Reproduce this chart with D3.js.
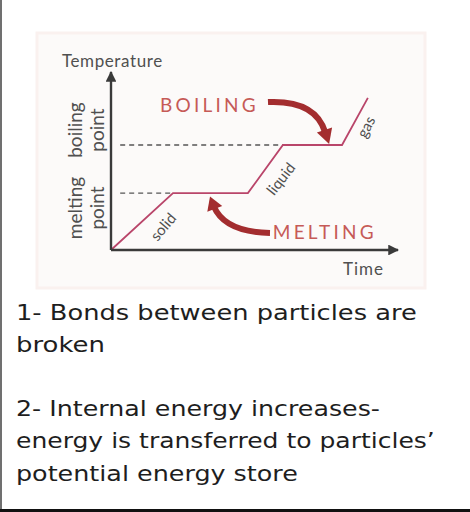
<!DOCTYPE html>
<html><head><meta charset="utf-8">
<script src="https://cdn.jsdelivr.net/npm/d3@7"></script>
<style>html,body{margin:0;padding:0;background:#fff;} svg{display:block}</style>
</head><body><svg id="c" width="470" height="512"></svg>
<script>
// ---- data ----
const curveTime = [0, 2.16, 4.77, 5.99, 8.05, 8.95];
const curveTemp = [0, 3.2, 3.2, 5.9, 5.9, 8.55];
const pointTemps = [3.2, 5.9];
const pointDashEnd = [2.16, 5.99];
const pointLabels = [["melting", "point"], ["boiling", "point"]];
const phaseLabels = ["solid", "liquid", "gas"];
const phaseTime = [1.82, 5.92, 8.89];
const phaseTemp = [1.30, 4.00, 6.91];
const phaseAngle = [-50, -52, -62];
const processLabels = ["BOILING", "MELTING"];
const processTime = [1.71, 5.64];
const processTemp = [8.15, 1.01];
// arrows: start, control, end, tip (time, temp)
const arrowBoiling = [[5.47, 8.31], [7.11, 8.43], [7.46, 6.63], [7.60, 5.95]];
const arrowMelting = [[5.54, 0.955], [3.97, 1.01], [3.59, 2.42], [3.45, 3.0]];
const axisTitles = ["Temperature", "Time"];
const noteLines = [
  "1- Bonds between particles are",
  "broken",
  "",
  "2- Internal energy increases-",
  "energy is transferred to particles\u2019",
  "potential energy store"
];
const noteWidths = [401, 89, 0, 364, 419, 282];

// ---- drawing ----
const svg = d3.select("#c");
svg.append("rect").attr("width", 470).attr("height", 512).attr("fill", "#fff");

// picture panel
svg.append("rect").attr("x", 37).attr("y", 33).attr("width", 388).attr("height", 255)
  .attr("fill", "#fcfaf9").attr("stroke", "#faf1ef").attr("stroke-width", 3);

const x = d3.scaleLinear().domain([0, 10]).range([111, 398]);
const y = d3.scaleLinear().domain([0, 10]).range([250, 72]);
const g = svg.append("g");

const defs = svg.append("defs");
defs.append("marker").attr("id", "ah").attr("viewBox", "0 0 10 10").attr("refX", 9).attr("refY", 5)
  .attr("markerWidth", 4.5).attr("markerHeight", 4.5).attr("orient", "auto").attr("markerUnits", "strokeWidth")
  .append("path").attr("d", "M0,0L10,5L0,10z").attr("fill", "#3a3a3a");

// dashed reference lines
g.selectAll(".dash").data(pointTemps).join("line")
  .attr("x1", x(0.32)).attr("x2", (d, i) => x(pointDashEnd[i]))
  .attr("y1", d => y(d)).attr("y2", d => y(d))
  .attr("stroke", "#555").attr("stroke-width", 1.3).attr("stroke-dasharray", "5,4");

// heating curve
const pts = curveTime.map((t, i) => [t, curveTemp[i]]);
g.append("path").datum(pts)
  .attr("d", d3.line().x(d => x(d[0])).y(d => y(d[1])))
  .attr("fill", "none").attr("stroke", "#b9456a").attr("stroke-width", 1.8);

// axes
g.append("line").attr("x1", x(0)).attr("y1", y(0)).attr("x2", x(0)).attr("y2", y(10))
  .attr("stroke", "#3a3a3a").attr("stroke-width", 2.4).attr("marker-end", "url(#ah)");
g.append("line").attr("x1", x(0)).attr("y1", y(0)).attr("x2", x(10)).attr("y2", y(0))
  .attr("stroke", "#3a3a3a").attr("stroke-width", 2.4).attr("marker-end", "url(#ah)");

const hand = "Lato, 'Open Sans', sans-serif";
const handCol = "#505050";
g.append("text").attr("x", x(-1.71)).attr("y", y(10.28)).text(axisTitles[0])
  .attr("font-family", hand).attr("font-size", 17).attr("letter-spacing", 0.6).attr("fill", handCol);
g.append("text").attr("x", x(8.08)).attr("y", y(-1.40)).text(axisTitles[1])
  .attr("font-family", hand).attr("font-size", 17).attr("letter-spacing", 1).attr("fill", handCol);

// rotated fixed-point labels
pointLabels.forEach((lines, i) => {
  const cy = y(pointTemps[i] - (i === 0 ? 0.84 : -0.84));
  lines.forEach((w, j) => {
    const cx = x(j === 0 ? -1.25 : -0.47);
    g.append("text").attr("transform", `translate(${cx},${cy}) rotate(-90)`)
      .attr("text-anchor", "middle").attr("dy", "0.35em").text(w)
      .attr("font-family", hand).attr("font-size", 19).attr("fill", handCol);
  });
});

// phase labels
phaseLabels.forEach((w, i) => {
  g.append("text").attr("transform", `translate(${x(phaseTime[i])},${y(phaseTemp[i])}) rotate(${phaseAngle[i]})`)
    .attr("text-anchor", "middle").attr("dy", "0.35em").text(w)
    .attr("font-family", hand).attr("font-size", 15).attr("fill", handCol);
});

// process labels
processLabels.forEach((w, i) => {
  g.append("text").attr("x", x(processTime[i])).attr("y", y(processTemp[i])).attr("dy", "0.36em")
    .text(w).attr("font-family", hand).attr("font-size", 19).attr("letter-spacing", 3.2)
    .attr("fill", "#c65a57");
});

// curved arrows
function arrow(a) {
  const p = a.map(d => [x(d[0]), y(d[1])]);
  const [s, c, e, t] = p;
  g.append("path").attr("d", `M${s[0]},${s[1]}Q${c[0]},${c[1]} ${e[0]},${e[1]}`)
    .attr("fill", "none").attr("stroke", "#a32d2f").attr("stroke-width", 6);
  const dx = t[0] - e[0], dy = t[1] - e[1], L = Math.hypot(dx, dy);
  const nx = -dy / L * 8, ny = dx / L * 8;
  const bx = e[0] - dx / L * 2, by = e[1] - dy / L * 2;
  g.append("path").attr("d", `M${t[0]},${t[1]}L${bx + nx},${by + ny}L${bx - nx},${by - ny}Z`)
    .attr("fill", "#a32d2f");
}
arrow(arrowBoiling);
arrow(arrowMelting);

// notes (horizontally scaled to the reference's wide geometric face)
svg.selectAll(".note").data(noteLines).join("text")
  .attr("x", 0).attr("y", 0)
  .attr("font-family", "'DejaVu Sans', sans-serif")
  .attr("font-size", 21).attr("fill", "#1e1e1e")
  .text(d => d)
  .each(function (d, i) {
    const yy = 320 + i * 32.1;
    let sx = 1;
    if (d) { const w = this.getComputedTextLength(); if (w > 0) sx = noteWidths[i] / w; }
    d3.select(this).attr("transform", `translate(16,${yy}) scale(${sx},1)`);
  });

// frame
svg.append("line").attr("x1", 1).attr("y1", 0).attr("x2", 1).attr("y2", 512).attr("stroke", "#707070").attr("stroke-width", 2);
svg.append("line").attr("x1", 0).attr("y1", 510.5).attr("x2", 470).attr("y2", 510.5).attr("stroke", "#111").attr("stroke-width", 3);
</script></body></html>
